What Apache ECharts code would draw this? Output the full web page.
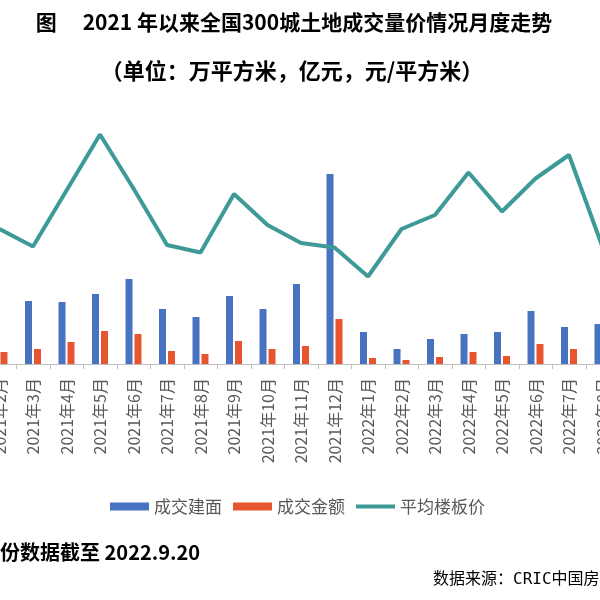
<!DOCTYPE html>
<html>
<head>
<meta charset="utf-8">
<title>2021年以来全国300城土地成交量价情况月度走势</title>
<script src="https://cdn.jsdelivr.net/npm/echarts@6/dist/echarts.min.js"></script>
<style>
  html, body { margin: 0; padding: 0; background: #fff; }
  #chart { width: 600px; height: 600px; }
</style>
</head>
<body>
<div id="chart"></div>
<script>
// months visible in the crop (2021年2月 .. 2022年8月)
const months = [
  '2021年2月', '2021年3月', '2021年4月', '2021年5月', '2021年6月', '2021年7月',
  '2021年8月', '2021年9月', '2021年10月', '2021年11月', '2021年12月',
  '2022年1月', '2022年2月', '2022年3月', '2022年4月', '2022年5月',
  '2022年6月', '2022年7月', '2022年8月'
];

// 成交建面 (万平方米)
const area = [7000, 6300, 6200, 7000, 8500, 5500, 4700, 6800, 5500, 8000, 19000,
  3200, 1500, 2500, 3000, 3200, 5300, 3700, 4000];

// 成交金额 (亿元)
const amount = [1200, 1500, 2200, 3300, 3000, 1300, 1000, 2300, 1500, 1800, 4500,
  600, 400, 700, 1200, 800, 2000, 1500, 1300];

// 平均楼板价 (元/平方米)
const price = [2700, 2350, 3470, 4590, 3510, 2380, 2230, 3400, 2780, 2420, 2330,
  1750, 2700, 2980, 3830, 3050, 3710, 4180, 2340];

const seriesNames = ['成交建面', '成交金额', '平均楼板价'];

const titleText = '图\u3000 2021 年以来全国300城土地成交量价情况月度走势';
const subtitleText = '（单位：万平方米，亿元，元/平方米）';
const noteText = '份数据截至 2022.9.20';
const sourceText = '数据来源：CRIC中国房地产决策咨询系统';

const CJK = '"Noto Sans CJK SC", "Noto Sans", sans-serif';
// thin bar inside an 39x8 box, used as the legend mark of the line
const lineIcon = 'path://M0,0h0.05v0.05h-0.05zM0,2h39v4h-39zM0,7.95h0.05v0.05h-0.05z';

function textEl(text, x, y, font, align){
  return {
    type: 'text',
    x: x,
    y: y,
    style: {
      text: text,
      fill: '#000',
      font: font,
      align: align, textAlign: align,
      verticalAlign: 'middle', textVerticalAlign: 'middle'
    }
  };
}

const chart = echarts.init(document.getElementById('chart'), null, { renderer: 'canvas' });

chart.setOption({
  animation: false,
  backgroundColor: '#fff',
  graphic: [
    textEl(titleText, 294, 22, 'bold 21px ' + CJK, 'center'),
    textEl(subtitleText, 292, 71, 'bold 22px ' + CJK, 'center'),
    textEl(noteText, 0, 552, 'bold 20px ' + CJK, 'left'),
    textEl(sourceText, 433, 580, '16px "DejaVu Sans Mono", ' + CJK, 'left')
  ],
  legend: {
    data: [
      { name: seriesNames[0], icon: 'rect' },
      { name: seriesNames[1], icon: 'rect' },
      { name: seriesNames[2], icon: lineIcon }
    ],
    left: 105,
    top: 493,
    itemWidth: 39,
    itemHeight: 8,
    itemGap: 11,
    textStyle: { color: '#595959', fontSize: 17, fontFamily: CJK }
  },
  grid: {
    left: -17.25, right: -19.25, top: 64, bottom: 236,
    containLabel: false,
    outerBoundsMode: 'none'
  },
  xAxis: {
    type: 'category',
    data: months,
    boundaryGap: true,
    axisLine: { lineStyle: { color: '#bfbfbf', width: 1 } },
    axisTick: { show: true, length: 5, lineStyle: { color: '#bfbfbf' } },
    axisLabel: {
      interval: 0,
      rotate: 90,
      margin: 14,
      color: '#595959',
      fontSize: 16,
      fontFamily: CJK
    }
  },
  yAxis: [
    {
      type: 'value', min: 0, max: 30000, interval: 5000,
      axisLine: { show: false }, axisTick: { show: false },
      axisLabel: { show: false }, splitLine: { show: false }
    },
    {
      type: 'value', min: 0, max: 6000, interval: 1000,
      axisLine: { show: false }, axisTick: { show: false },
      axisLabel: { show: false }, splitLine: { show: false }
    }
  ],
  series: [
    {
      name: seriesNames[0],
      type: 'bar',
      data: area,
      barWidth: 7,
      barGap: '28%',
      itemStyle: { color: '#4873c0' }
    },
    {
      name: seriesNames[1],
      type: 'bar',
      data: amount,
      barWidth: 7,
      itemStyle: { color: '#e6552f' }
    },
    {
      name: seriesNames[2],
      type: 'line',
      yAxisIndex: 1,
      data: price,
      symbol: 'none',
      lineStyle: { color: '#3d9a97', width: 4 },
      itemStyle: { color: '#3d9a97' },
      z: 5
    }
  ]
});
</script>
</body>
</html>
